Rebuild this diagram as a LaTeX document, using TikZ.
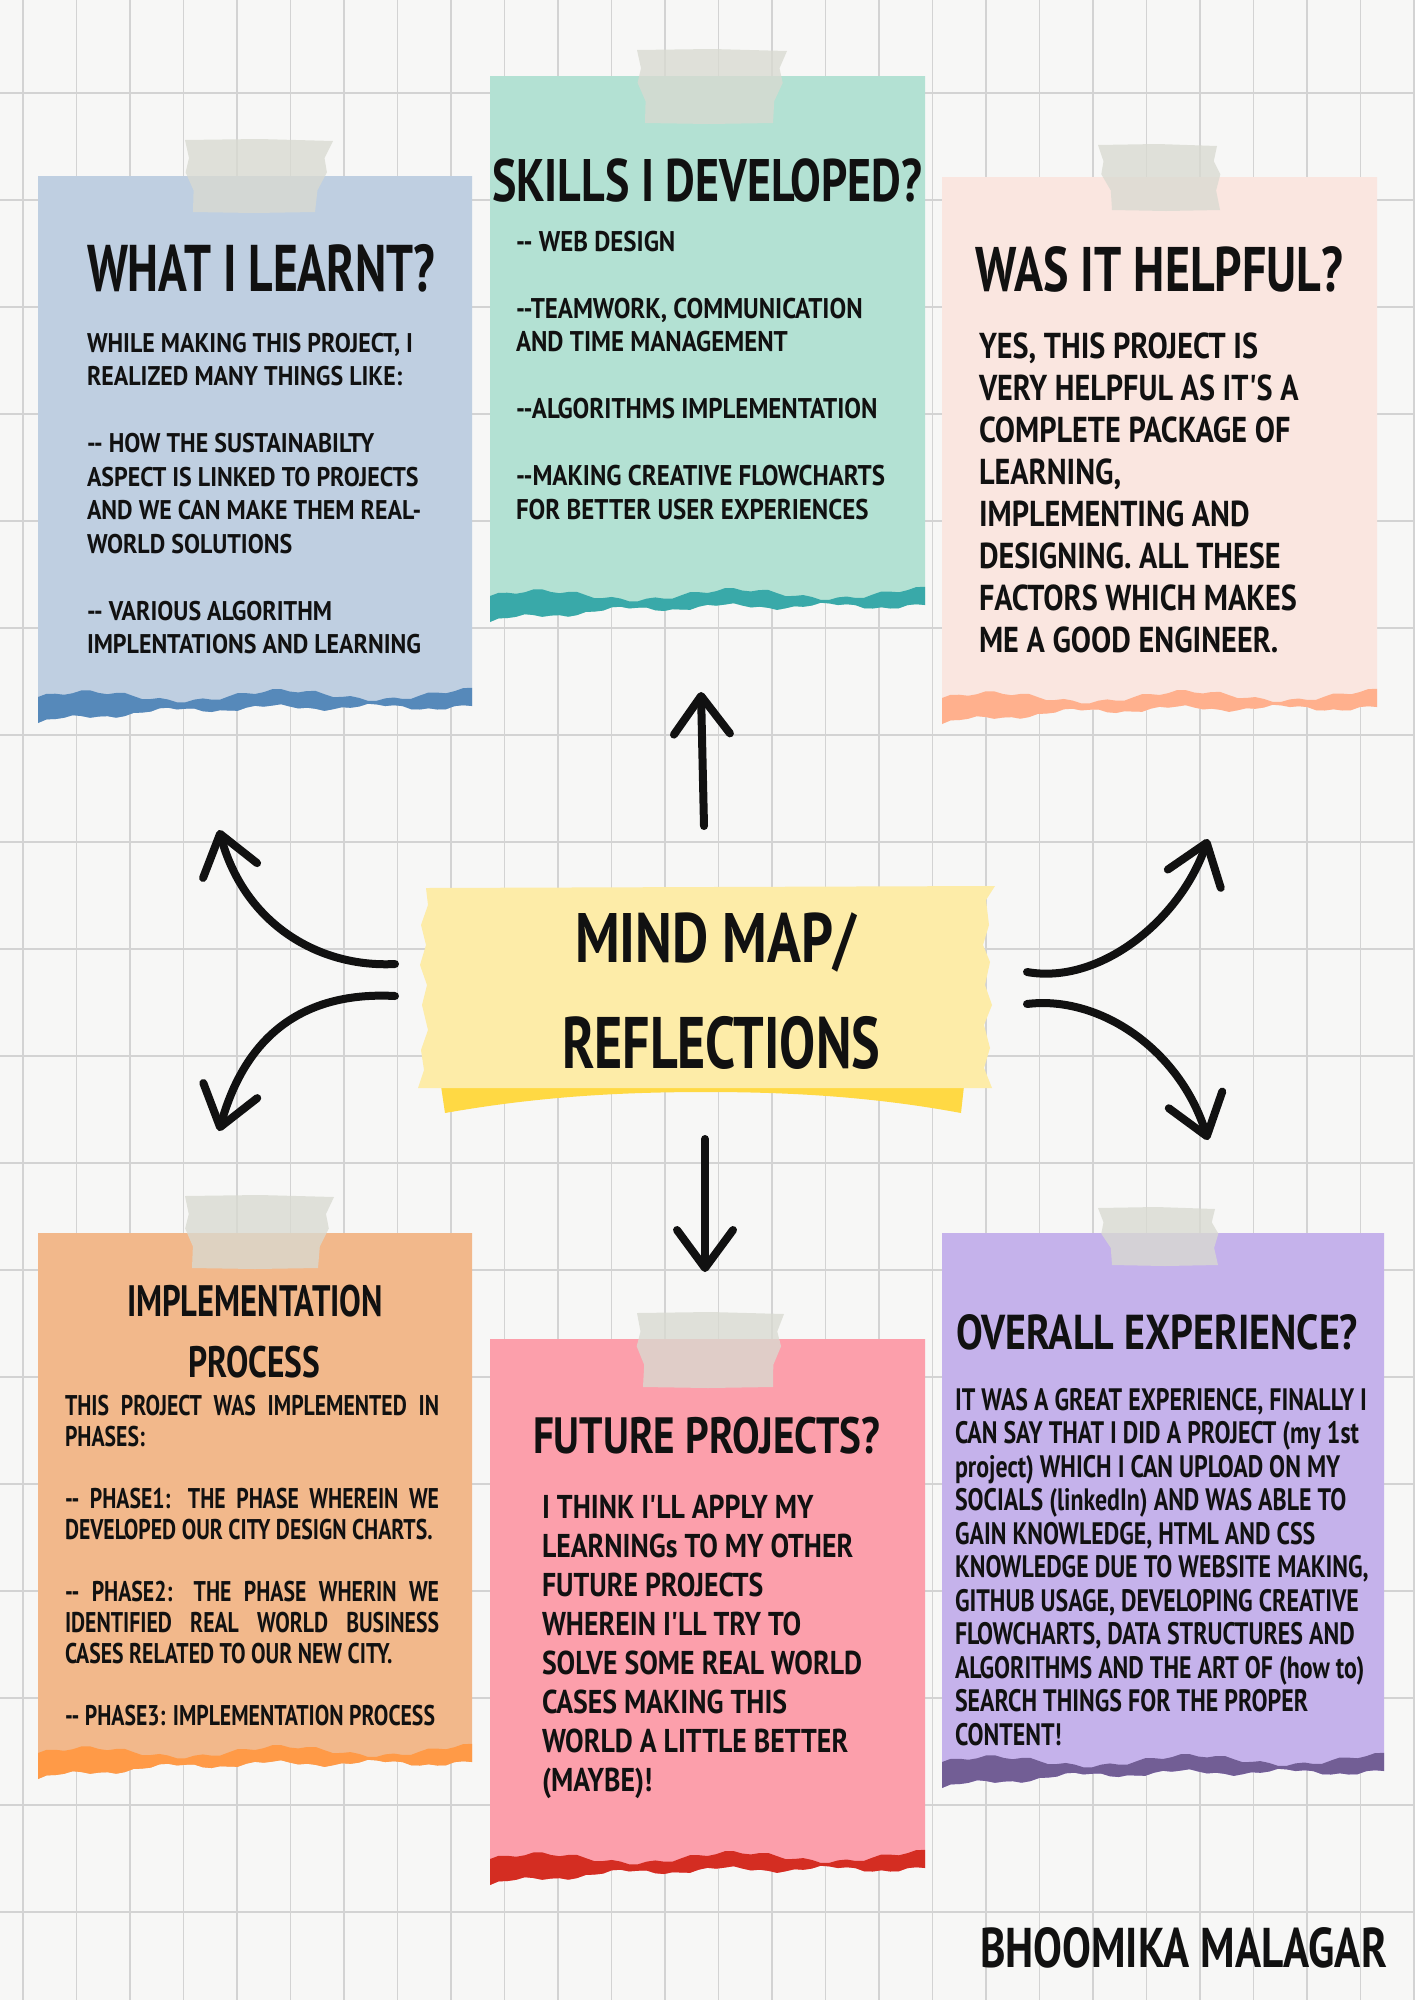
\documentclass[tikz,border=0pt]{standalone}
\usepackage{fontspec}
\usepackage{graphicx}
\usetikzlibrary{arrows.meta}
\newfontfamily\handf{PT Sans}

\definecolor{paperbg}{HTML}{F7F7F6}
\definecolor{gridline}{HTML}{D3D3D3}
\definecolor{ink}{HTML}{111111}
\definecolor{tapecol}{HTML}{D9DAD1}
\definecolor{bluepaper}{HTML}{BFCFE1}
\definecolor{blueedge}{HTML}{5689BA}
\definecolor{mintpaper}{HTML}{B3E1D3}
\definecolor{mintedge}{HTML}{39A9A9}
\definecolor{peachpaper}{HTML}{FAE6E0}
\definecolor{peachedge}{HTML}{FFB08D}
\definecolor{orangepaper}{HTML}{F2B88B}
\definecolor{orangeedge}{HTML}{FF9A47}
\definecolor{pinkpaper}{HTML}{FC9FAB}
\definecolor{pinkedge}{HTML}{D42D22}
\definecolor{lilacpaper}{HTML}{C5B2EB}
\definecolor{lilacedge}{HTML}{725E95}
\definecolor{hubpaper}{HTML}{FDECA8}
\definecolor{hubedge}{HTML}{FFD944}

% horizontal-only fitting of a single line / a block of lines
\newlength\reflen
\newlength\jw
\newcommand\fitline[2]{\resizebox{#1pt}{\height}{#2}}
\newcommand\fitblock[3]{\settowidth\reflen{#2}%
  \edef\blockscale{\fpeval{#1/\reflen}}%
  \scalebox{\blockscale}[1]{\begin{tabular}[t]{@{}l@{}}#3\end{tabular}}}
\newcommand\jline[1]{\makebox[\jw][s]{#1}}

% wavy torn edge: offsets from the lower left corner as functions of the width fraction
\newcommand\toptear[1]{-26-5*sin(#1*800)-1.8*sin(#1*4100)-3*#1}
\newcommand\bottear[1]{-16+16*(1-#1)^4-2.5*sin(#1*1500)-1.2*sin(#1*5300)}

% #1 left, #2 right, #3 top, #4 bottom (left corner), #5 paper, #6 torn edge
\newcommand\papercard[6]{%
  \fill[#5] (#1,#3) -- (#2,#3)
    \foreach \k [evaluate=\k as \fr using \k/50] in {50,...,0} { -- ({#1+\fr*(#2-#1)},{#4+\bottear{\fr}}) }
    -- (#1,#4) -- cycle;
  \fill[#6] (#1,{#4+\toptear{0}})
    \foreach \k [evaluate=\k as \fr using \k/50] in {1,...,50} { -- ({#1+\fr*(#2-#1)},{#4+\toptear{\fr}}) }
    \foreach \k [evaluate=\k as \fr using \k/50] in {50,...,0} { -- ({#1+\fr*(#2-#1)},{#4+\bottear{\fr}}) }
    -- cycle;
}

% masking tape: #1 x0, #2 top, #3 x1, #4 bottom, #5 lower left x, #6 lower right x
\newcommand\tapestrip[6]{%
  \fill[tapecol, fill opacity=0.78] (#1,#2) -- ({0.5*(#1+#3)},{#2-1}) -- (#3,{#2+1})
    -- ({#3+0.25*(#6-#3)-4},{#2+0.25*(#4-#2)}) -- ({#3+0.45*(#6-#3)+2},{#2+0.45*(#4-#2)})
    -- ({#3+0.7*(#6-#3)-3},{#2+0.7*(#4-#2)}) -- (#6,#4) -- ({0.5*(#5+#6)},{#4+1}) -- (#5,#4)
    -- ({#1+0.7*(#5-#1)+3},{#2+0.7*(#4-#2)}) -- ({#1+0.45*(#5-#1)-3},{#2+0.45*(#4-#2)})
    -- ({#1+0.25*(#5-#1)+2},{#2+0.25*(#4-#2)}) -- cycle;
}

\begin{document}
\begin{tikzpicture}[x=1pt, y=-1pt,
  lbl/.style={inner sep=0pt, outer sep=0pt, anchor=base west, font=\handf\bfseries, text=ink},
  arrowstroke/.style={draw=ink, line width=8pt, line cap=round,
    -{Straight Barb[length=38pt, width=56pt, round]}}]

\useasboundingbox (0,0) rectangle (1414,2000);
\fill[paperbg] (0,0) rectangle (1414,2000);

% graph paper
\foreach \gx in {23,76.5,...,1414} \draw[gridline, line width=1.2pt] (\gx,0) -- (\gx,2000);
\foreach \gy in {93,200,...,2000} \draw[gridline, line width=1.3pt] (0,\gy) -- (1414,\gy);

% notes
\papercard{38}{472}{176}{723}{bluepaper}{blueedge}
\papercard{490}{925}{76}{622}{mintpaper}{mintedge}
\papercard{942}{1377}{177}{724}{peachpaper}{peachedge}
\papercard{38}{472}{1233}{1779}{orangepaper}{orangeedge}
\papercard{490}{925}{1339}{1885}{pinkpaper}{pinkedge}
\papercard{942}{1384}{1233}{1788}{lilacpaper}{lilacedge}

% tape pieces
\tapestrip{185}{140}{333}{212}{193}{315}
\tapestrip{637}{50}{787}{123}{645}{773}
\tapestrip{1098}{145}{1217}{210}{1112}{1220}
\tapestrip{185}{1196}{334}{1268}{192}{318}
\tapestrip{637}{1313}{784}{1387}{643}{773}
\tapestrip{1098}{1208}{1215}{1265}{1112}{1218}

% central label
\fill[hubedge] (441,1086) -- (964,1086) -- (961,1113) .. controls (880,1098) and (800,1092) .. (706,1092)
  .. controls (610,1092) and (530,1098) .. (445,1113) -- cycle;
\fill[hubpaper] (426,888) -- (995,886) -- (986,900) -- (989,925) -- (983,945) -- (990,962) -- (985,985)
  -- (992,1005) -- (984,1025) -- (990,1048) -- (984,1068) -- (992,1088) -- (418,1088) -- (424,1070)
  -- (421,1050) -- (428,1030) -- (422,1005) -- (427,985) -- (420,965) -- (426,945) -- (421,925)
  -- (428,905) -- cycle;
\node[lbl] (hubA) at (575,962) {\fontsize{70}{74}\selectfont\fitline{281}{MIND MAP/}};
\node[lbl] (hubB) at (562,1068) {\fontsize{73}{76}\selectfont\fitline{318}{REFLECTIONS}};

% arrows out of the centre
\coordinate (upS) at (704,826);  \coordinate (upE) at (701,692);
\coordinate (dnS) at (705,1139); \coordinate (dnE) at (705,1272);
\coordinate (ulS) at (395,964);  \coordinate (ulE) at (219,830);
\coordinate (llS) at (395,996);  \coordinate (llE) at (219,1131);
\coordinate (urS) at (1027,972); \coordinate (urE) at (1208,839);
\coordinate (lrS) at (1027,1004);\coordinate (lrE) at (1208,1140);
\draw[arrowstroke] (upS) -- (upE);
\draw[arrowstroke] (dnS) -- (dnE);
\draw[arrowstroke] (ulS) .. controls (320,968) and (245,925) .. (ulE);
\draw[arrowstroke] (llS) .. controls (320,992) and (250,1020) .. (llE);
\draw[arrowstroke] (urS) .. controls (1100,985) and (1180,920) .. (urE);
\draw[arrowstroke] (lrS) .. controls (1100,995) and (1180,1050) .. (lrE);

% note 1
\node[lbl] (t1) at (87,291) {\fontsize{66}{70}\selectfont\fitline{348}{WHAT I LEARNT?}};
\node[lbl] (b1) at (87,352) {\fontsize{27}{33.5}\selectfont\fitblock{326}{WHILE MAKING THIS PROJECT, I}{%
WHILE MAKING THIS PROJECT, I\\ REALIZED MANY THINGS LIKE:\\ \\ -{}- HOW THE SUSTAINABILTY\\
ASPECT IS LINKED TO PROJECTS\\ AND WE CAN MAKE THEM REAL-\\ WORLD SOLUTIONS\\ \\
-{}- VARIOUS ALGORITHM\\ IMPLENTATIONS AND LEARNING}};

% note 2
\node[lbl] (t2) at (492,201) {\fontsize{60}{64}\selectfont\fitline{430}{SKILLS I DEVELOPED?}};
\node[lbl] (b2) at (516,251) {\fontsize{28.5}{33.5}\selectfont\fitblock{369}{-{}-MAKING CREATIVE FLOWCHARTS}{%
-{}- WEB DESIGN\\ \\ -{}-TEAMWORK, COMMUNICATION\\ AND TIME MANAGEMENT\\ \\
-{}-ALGORITHMS IMPLEMENTATION\\ \\ -{}-MAKING CREATIVE FLOWCHARTS\\ FOR BETTER USER EXPERIENCES}};

% note 3
\node[lbl] (t3) at (975,291) {\fontsize{63}{66}\selectfont\fitline{368}{WAS IT HELPFUL?}};
\node[lbl] (b3) at (979,358) {\fontsize{36}{42}\selectfont\fitblock{318}{FACTORS WHICH MAKES}{%
YES, THIS PROJECT IS\\ VERY HELPFUL AS IT'S A\\ COMPLETE PACKAGE OF\\ LEARNING,\\
IMPLEMENTING AND\\ DESIGNING. ALL THESE\\ FACTORS WHICH MAKES\\ ME A GOOD ENGINEER.}};

% note 4
\node[lbl] (t4a) at (127,1316) {\fontsize{44}{48}\selectfont\fitline{256}{IMPLEMENTATION}};
\node[lbl] (t4b) at (188,1377.5) {\fontsize{44}{48}\selectfont\fitline{132}{PROCESS}};
\node[lbl] (b4) at (65,1415) {\fontsize{28.5}{31}\selectfont
\settowidth\jw{-{}- PHASE3: IMPLEMENTATION PROCESS}\setlength\jw{1.011\jw}%
\fitblock{370}{-{}- PHASE3: IMPLEMENTATION PROCESS}{%
\jline{THIS PROJECT WAS IMPLEMENTED IN}\\ PHASES:\\ \\
\jline{-{}- PHASE1: THE PHASE WHEREIN WE}\\ DEVELOPED OUR CITY DESIGN CHARTS.\\ \\
\jline{-{}- PHASE2: THE PHASE WHERIN WE}\\ \jline{IDENTIFIED REAL WORLD BUSINESS}\\
CASES RELATED TO OUR NEW CITY.\\ \\ -{}- PHASE3: IMPLEMENTATION PROCESS}};

% note 5
\node[lbl] (t5) at (533,1453) {\fontsize{51}{55}\selectfont\fitline{347}{FUTURE PROJECTS?}};
\node[lbl] (b5) at (542,1518) {\fontsize{33}{39.1}\selectfont\fitblock{320}{SOLVE SOME REAL WORLD}{%
I THINK I'LL APPLY MY\\ LEARNINGs TO MY OTHER\\ FUTURE PROJECTS\\ WHEREIN I'LL TRY TO\\
SOLVE SOME REAL WORLD\\ CASES MAKING THIS\\ WORLD A LITTLE BETTER\\ (MAYBE)!}};

% note 6
\node[lbl] (t6) at (956,1349) {\fontsize{49}{53}\selectfont\fitline{402}{OVERALL EXPERIENCE?}};
\node[lbl] (b6) at (955,1410) {\fontsize{31}{33.5}\selectfont\fitblock{412}{IT WAS A GREAT EXPERIENCE, FINALLY I}{%
IT WAS A GREAT EXPERIENCE, FINALLY I\\ CAN SAY THAT I DID A PROJECT (my 1st\\
project) WHICH I CAN UPLOAD ON MY\\ SOCIALS (linkedIn) AND WAS ABLE TO\\
GAIN KNOWLEDGE, HTML AND CSS\\ KNOWLEDGE DUE TO WEBSITE MAKING,\\
GITHUB USAGE, DEVELOPING CREATIVE\\ FLOWCHARTS, DATA STRUCTURES AND\\
ALGORITHMS AND THE ART OF (how to)\\ SEARCH THINGS FOR THE PROPER\\ CONTENT!}};

% signature
\node[lbl] (sig) at (980,1967) {\fontsize{56}{60}\selectfont\fitline{407}{BHOOMIKA MALAGAR}};
\end{tikzpicture}
\end{document}
